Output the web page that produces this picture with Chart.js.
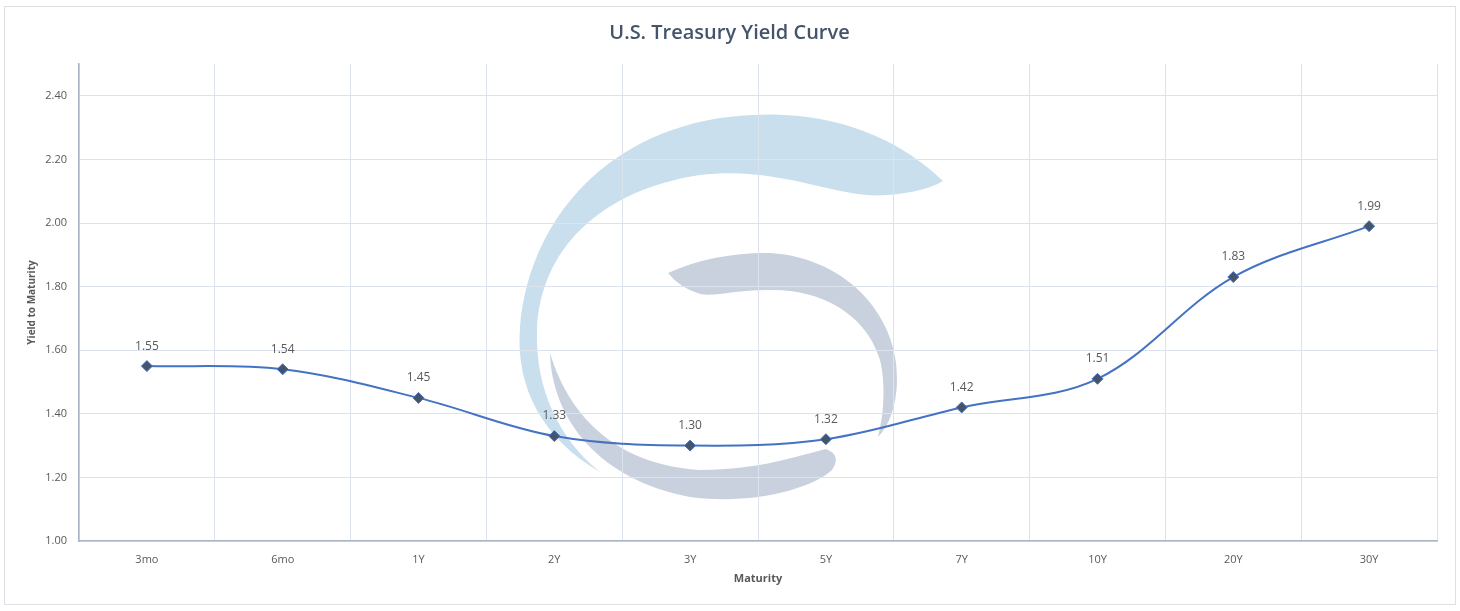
<!DOCTYPE html>
<html lang="en">
<head>
    <meta charset="UTF-8">
    <title>U.S. Treasury Yield Curve</title>
    <script src="https://cdn.jsdelivr.net/npm/chart.js"></script>
    <style>
        body { margin: 0; background: #fff; }
        #wrap { width: 1460px; height: 611px; position: relative; }
        canvas { background: #fff; }
    </style>
</head>
<body>
<div id="wrap"><canvas id="yieldChart"></canvas></div>
<script>
    // chart data
    const maturities = ['3mo', '6mo', '1Y', '2Y', '3Y', '5Y', '7Y', '10Y', '20Y', '30Y'];
    const yields = [1.55, 1.54, 1.45, 1.33, 1.30, 1.32, 1.42, 1.51, 1.83, 1.99];
    const yMin = 1.0;
    const yMax = 2.5;
    const yStep = 0.2;

    const textColor = '#595959';
    const gridColor = '#dde3ec';
    const axisColor = '#aab4c6';

    // outer frame + faded logo behind the grid
    const backdrop = {
        id: 'backdrop',
        beforeDraw(chart) {
            const c = chart.ctx;
            c.save();
            c.strokeStyle = '#dcdfe4';
            c.lineWidth = 1;
            c.strokeRect(4.5, 6.5, 1451, 598);

            // light blue swirl
            c.fillStyle = '#c9dfee';
            c.beginPath();
            c.moveTo(943, 181);
            c.bezierCurveTo(880, 120, 800, 112, 753, 115);
            c.bezierCurveTo(620, 120, 530, 210, 520, 327);
            c.bezierCurveTo(515, 390, 545, 440, 600, 472);
            c.bezierCurveTo(560, 440, 535, 390, 537, 330);
            c.bezierCurveTo(540, 250, 600, 190, 700, 175);
            c.bezierCurveTo(780, 165, 840, 200, 887, 195);
            c.quadraticCurveTo(925, 192, 943, 181);
            c.fill();

            // grey swirl, upper part
            c.fillStyle = '#cad1de';
            c.beginPath();
            c.moveTo(668, 273);
            c.bezierCurveTo(700, 258, 740, 252, 770, 253);
            c.bezierCurveTo(850, 258, 900, 320, 897, 383);
            c.bezierCurveTo(896, 405, 890, 425, 878, 437);
            c.bezierCurveTo(885, 410, 885, 380, 880, 360);
            c.bezierCurveTo(865, 310, 815, 288, 767, 290);
            c.bezierCurveTo(735, 290, 715, 297, 700, 294);
            c.quadraticCurveTo(680, 288, 668, 273);
            c.fill();

            // grey swirl, lower part
            c.beginPath();
            c.moveTo(550, 353);
            c.bezierCurveTo(552, 420, 600, 480, 690, 497);
            c.bezierCurveTo(750, 505, 810, 490, 832, 470);
            c.quadraticCurveTo(842, 455, 826, 449);
            c.bezierCurveTo(800, 455, 760, 470, 700, 470);
            c.bezierCurveTo(620, 465, 570, 420, 550, 353);
            c.fill();
            c.restore();
        }
    };

    // value labels above each point
    const pointLabels = {
        id: 'pointLabels',
        afterDatasetsDraw(chart) {
            const c = chart.ctx;
            const meta = chart.getDatasetMeta(0);
            c.save();
            c.font = '12px "Open Sans", sans-serif';
            c.fillStyle = textColor;
            c.textAlign = 'center';
            c.textBaseline = 'middle';
            meta.data.forEach((pt, i) => {
                c.fillText(yields[i].toFixed(2), pt.x, pt.y - 20);
            });
            c.restore();
        }
    };

    new Chart(document.getElementById('yieldChart'), {
        type: 'line',
        data: {
            labels: maturities,
            datasets: [{
                label: 'Yield',
                data: yields,
                borderColor: '#4472c4',
                borderWidth: 2,
                tension: 0.35,
                pointStyle: 'rectRot',
                pointRadius: 5.5,
                pointBackgroundColor: '#44546a',
                pointBorderColor: '#4472c4',
                pointBorderWidth: 1
            }]
        },
        options: {
            responsive: true,
            maintainAspectRatio: false,
            animation: false,
            layout: { padding: { top: 21, left: 22, right: 23, bottom: 20 } },
            plugins: {
                legend: { display: false },
                tooltip: { enabled: false },
                title: {
                    display: true,
                    text: 'U.S. Treasury Yield Curve',
                    color: '#44546a',
                    font: { family: '"Open Sans", sans-serif', size: 20, weight: '600' },
                    padding: { top: 0, bottom: 19 }
                }
            },
            scales: {
                x: {
                    offset: true,
                    grid: { offset: true, color: gridColor, drawTicks: false },
                    border: { color: axisColor, width: 1.5 },
                    ticks: { color: textColor, padding: 12, font: { family: '"Open Sans", sans-serif', size: 11 } },
                    title: {
                        display: true, text: 'Maturity', color: textColor,
                        font: { family: '"Open Sans", sans-serif', size: 11, weight: 'bold' },
                        padding: { top: 4, bottom: 6 }
                    },
                    afterFit(scale) { scale.height = 50; }
                },
                y: {
                    min: yMin,
                    max: yMax,
                    grid: { color: gridColor, drawTicks: false },
                    border: { color: axisColor, width: 1.5 },
                    ticks: {
                        stepSize: yStep,
                        includeBounds: false,
                        color: textColor,
                        padding: 12,
                        font: { family: '"Open Sans", sans-serif', size: 11 },
                        callback: v => v.toFixed(2)
                    },
                    title: {
                        display: true, text: 'Yield to Maturity', color: textColor,
                        font: { family: '"Open Sans", sans-serif', size: 10, weight: 'bold' },
                        padding: { top: 4, bottom: 4 }
                    },
                    afterFit(scale) { scale.width = 57; }
                }
            }
        },
        plugins: [backdrop, pointLabels]
    });
</script>
</body>
</html>
